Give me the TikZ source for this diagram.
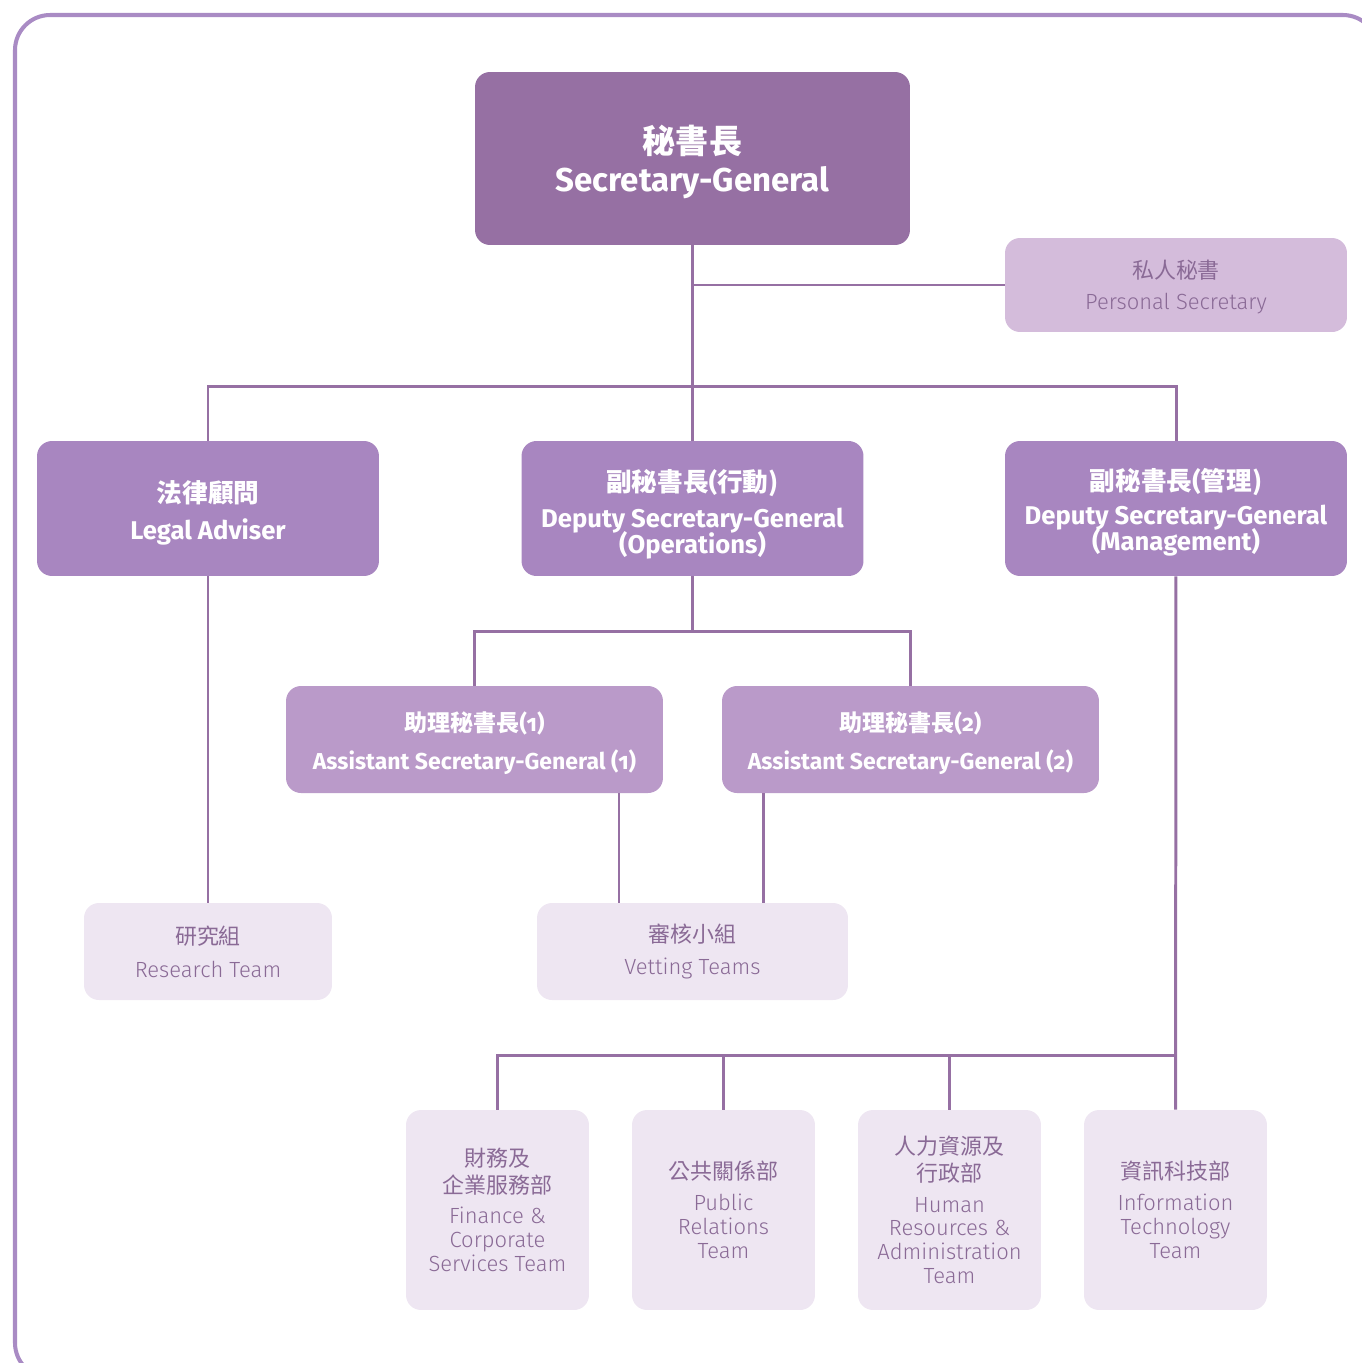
\documentclass[tikz,border=0pt]{standalone}
\usepackage{fontspec}
\setmainfont{Fira Sans}[Numbers=OldStyle]
\newfontfamily\firalight{Fira Sans Light}[Numbers=OldStyle]
\newfontfamily\cjk{Noto Sans CJK TC}
\usepackage{tikz}

\definecolor{sgpurple}{RGB}{150,112,163}
\definecolor{midpurple}{RGB}{168,134,192}
\definecolor{asgpurple}{RGB}{186,154,201}
\definecolor{pspurple}{RGB}{212,188,219}
\definecolor{palepurple}{RGB}{238,230,242}
\definecolor{teamtext}{RGB}{138,106,150}
\definecolor{framepurple}{RGB}{169,139,196}

\tikzset{
  box/.style={rounded corners=8.5pt, align=center, inner sep=0pt},
  lowered/.style={text depth=0pt, text height=#1},
  headbox/.style={box, fill=sgpurple, text=white, minimum width=8.7cm, minimum height=3.46cm,
    font=\bfseries\fontsize{18.8}{21.5}\selectfont, lowered=37.6pt},
  deputybox/.style={box, fill=midpurple, text=white, minimum width=6.84cm, minimum height=2.7cm,
    font=\bfseries\fontsize{14.6}{14.8}\selectfont,
    execute at begin node={\lineskiplimit=-10pt\relax}},
  asgbox/.style={box, fill=asgpurple, text=white, minimum width=7.54cm, minimum height=2.14cm,
    font=\bfseries\fontsize{13.1}{21.5}\selectfont, lowered=33.8pt},
  psbox/.style={box, fill=pspurple, text=teamtext, minimum width=6.84cm, minimum height=1.88cm,
    font=\firalight\fontsize{12.5}{17.6}\selectfont, lowered=27.6pt},
  teambox/.style={box, fill=palepurple, text=teamtext, minimum height=1.94cm,
    font=\firalight\fontsize{12.5}{18.7}\selectfont},
  unitbox/.style={box, fill=palepurple, text=teamtext, minimum width=3.66cm, minimum height=4cm,
    font=\firalight\fontsize{12.5}{13.6}\selectfont},
  link/.style={draw=sgpurple, line width=1.7pt},
  frame/.style={draw=framepurple, line width=2.3pt, rounded corners=20pt}
}

\begin{document}
\begin{tikzpicture}[x=0.02cm, y=-0.02cm]
\useasboundingbox (0,0) rectangle (1362,1363);
\clip (0,0) rectangle (1362,1363);
\draw[frame] (15,15) rectangle (1378,1378);

% top
\node (sg) at (692.5,158.5) [headbox] {{\cjk\bfseries 秘書長}\\Secretary-General};
\node (ps) at (1176,285) [psbox] {{\cjk 私人秘書}\\Personal Secretary};

% second row
\node (legal) at (208,508.5) [deputybox, lowered=35.1pt] {{\cjk\bfseries 法律顧問}\\[6pt]Legal Adviser};
\node (dops) at (692.5,508.5) [deputybox, lowered=51.5pt] {{\cjk\bfseries 副秘書長}(\cjk\bfseries 行動)\\[6pt]Deputy Secretary-General\\(Operations)};
\node (dmgt) at (1176,508.5) [deputybox, lowered=47.6pt] {{\cjk\bfseries 副秘書長}(\cjk\bfseries 管理)\\[4.5pt]Deputy Secretary-General\\(Management)};

% assistants
\node (asg1) at (474.5,739.5) [asgbox] {{\cjk\bfseries 助理秘書長}(1)\\Assistant Secretary-General (1)};
\node (asg2) at (910.5,739.5) [asgbox] {{\cjk\bfseries 助理秘書長}(2)\\Assistant Secretary-General (2)};

% teams
\node (research) at (208,951.5) [teambox, minimum width=4.96cm] {{\cjk 研究組}\\Research Team};
\node (vetting) at (692.5,951.5) [teambox, minimum width=6.22cm] {{\cjk 審核小組}\\Vetting Teams};

\node (fin) at (497.5,1210) [unitbox] {{\cjk 財務及}\\[1.5pt]{\cjk 企業服務部}\\[4pt]Finance \&\\Corporate\\Services Team};
\node (pr) at (723.5,1210) [unitbox] {{\cjk 公共關係部}\\[4pt]Public\\Relations\\Team};
\node (hr) at (949.5,1210) [unitbox] {{\cjk 人力資源及}\\[1.5pt]{\cjk 行政部}\\[4pt]Human\\Resources \&\\Administration\\Team};
\node (it) at (1175.5,1210) [unitbox] {{\cjk 資訊科技部}\\[4pt]Information\\Technology\\Team};

% connectors
\coordinate (top) at (692.5,386);
\coordinate (mid) at (692.5,631);
\coordinate (bus) at (1175.5,1055);
\coordinate (v1) at (619,903);
\coordinate (v2) at (763,903);

\draw[link] (sg) -- (dops);
\draw[link] (sg.south) |- (ps.west);
\draw[link] (legal.north) |- (top) -| (dmgt.north);
\draw[link] (dops) -- (mid);
\draw[link] (asg1.north) |- (mid) -| (asg2.north);
\draw[link] (legal) -- (research);
\draw[link] (asg1.south -| v1) -- (v1);
\draw[link] (asg2.south -| v2) -- (v2);
\draw[link] (dmgt) -- (it);
\draw[link] (fin.north) |- (bus);
\draw[link] (pr.north) -- (pr.north |- bus);
\draw[link] (hr.north) -- (hr.north |- bus);
\end{tikzpicture}
\end{document}
